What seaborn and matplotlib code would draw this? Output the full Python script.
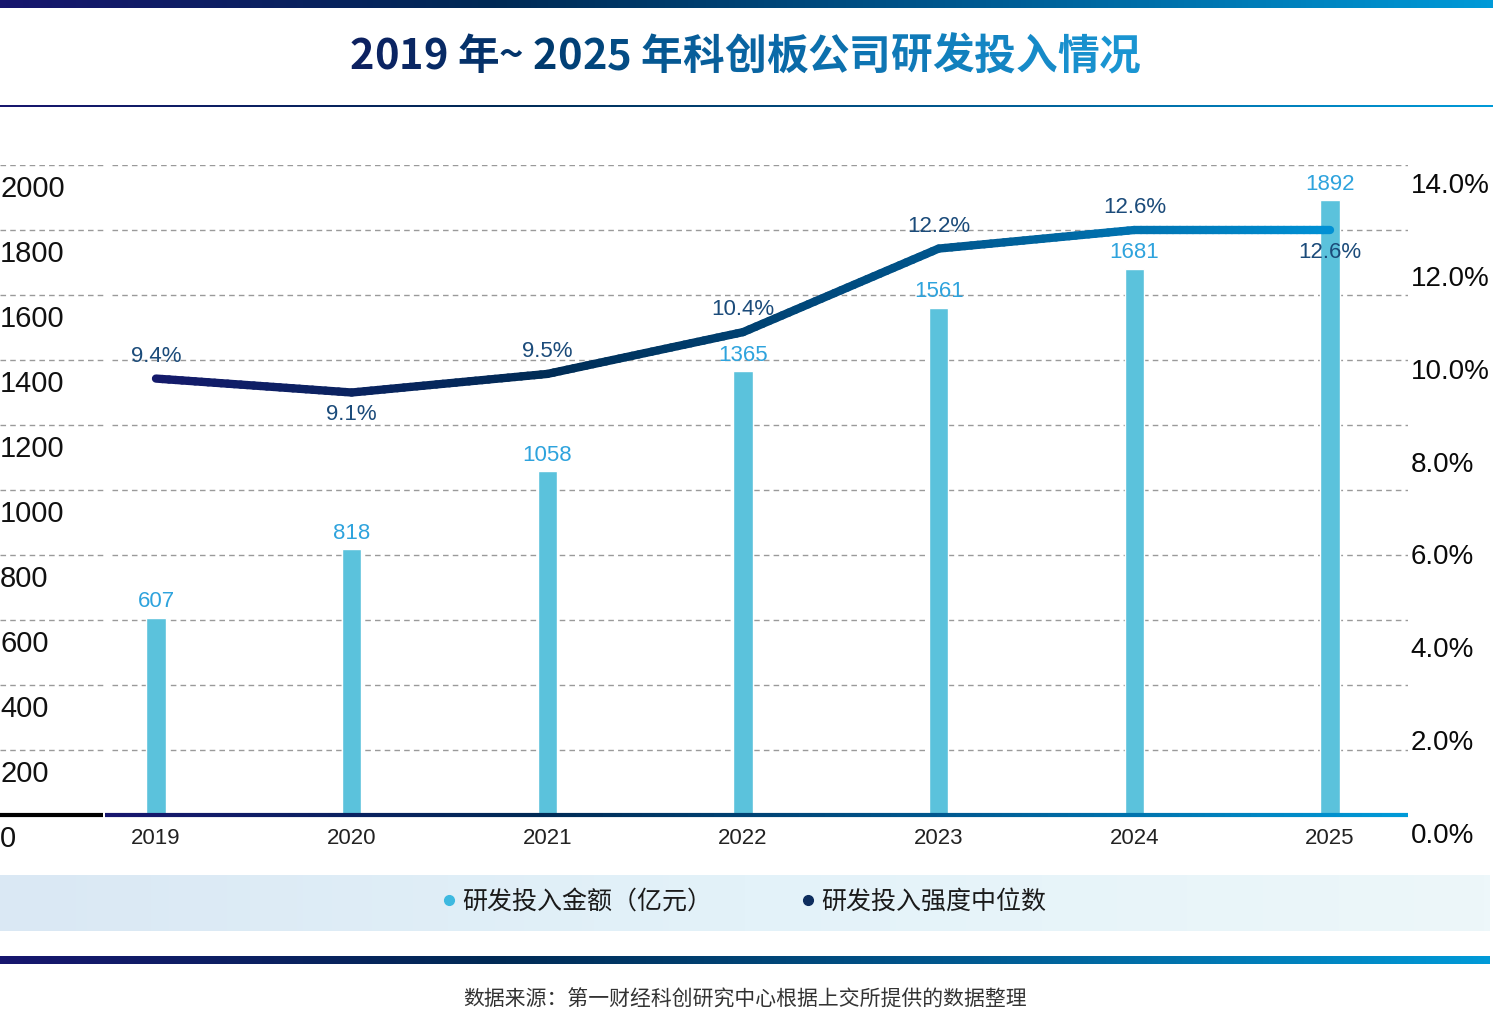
import numpy as np
import pandas as pd
import seaborn as sns
import matplotlib.pyplot as plt
from matplotlib.collections import LineCollection
from matplotlib.colors import LinearSegmentedColormap
from matplotlib.lines import Line2D
from matplotlib.transforms import ScaledTranslation

# data
years = ['2019', '2020', '2021', '2022', '2023', '2024', '2025']
rd_amount = [607, 818, 1058, 1365, 1561, 1681, 1892]          # 亿元
rd_intensity = [9.4, 9.1, 9.5, 10.4, 12.2, 12.6, 12.6]        # %
pct_label_above = [True, False, True, True, True, True, False]
left_ticks = [0, 200, 400, 600, 800, 1000, 1200, 1400, 1600, 1800, 2000]
right_ticks = [0, 2, 4, 6, 8, 10, 12, 14]

title = '2019 年~ 2025 年科创板公司研发投入情况'
legend_names = ['研发投入金额（亿元）', '研发投入强度中位数']
source = '数据来源：第一财经科创研究中心根据上交所提供的数据整理'

sns.set_theme(style='white')
plt.rcParams['font.family'] = ['Liberation Sans', 'Noto Sans CJK SC', 'DejaVu Sans']

W, H = 1493, 1018
BAR = '#5bc2dc'
brand = LinearSegmentedColormap.from_list('brand', ['#17166e', '#002a55', '#005c94', '#009ad8'])
title_cmap = LinearSegmentedColormap.from_list('tt', ['#0d2160', '#003a6e', '#0a6aa8', '#1a95d2'])
line_cmap = LinearSegmentedColormap.from_list('ln', ['#141a6b', '#002c55', '#00558c', '#0090d4'])

fig = plt.figure(figsize=(W / 100, H / 100), dpi=100)


def px_axes(x0, y0, x1, y1):
    # pixel box (top-left origin) -> figure axes
    return fig.add_axes([x0 / W, 1 - y1 / H, (x1 - x0) / W, (y1 - y0) / H])


def gradient_strip(x0, y0, x1, y1, cmap):
    a = px_axes(x0, y0, x1, y1)
    a.imshow(np.linspace(0, 1, 256)[None, :], aspect='auto', cmap=cmap)
    a.set_axis_off()
    return a


# top bar, title underline, bottom bar
gradient_strip(0, 0, W, 8, brand)
gradient_strip(0, 105, W, 107, brand)
gradient_strip(0, 956, 1490, 964, brand)

# legend band
band = LinearSegmentedColormap.from_list('band', ['#dae8f4', '#e3f2f9', '#edf7fa'])
gradient_strip(0, 875, 1490, 931, band)

# ---- main chart
ax = px_axes(0, 165, 1408, 815)
df = pd.DataFrame({'year': years, 'amount': rd_amount})
sns.barplot(data=df, x='year', y='amount', color=BAR, width=0.1, saturation=1, ax=ax, zorder=3)
ax.set_xlim(-156 / 195.67, (1408 - 156) / 195.67)
ax.set_ylim(0, 2000)
ax.set_xlabel('')
ax.set_ylabel('')
for s in ax.spines.values():
    s.set_visible(False)

# dashed grid with small gap near the left labels
ytr = ax.get_yaxis_transform()
for v in left_ticks[1:]:
    ax.plot([0, 103 / 1408], [v, v], transform=ytr, color='#9a9a9a', lw=1, ls=(0, (4, 3)), zorder=1)
    ax.plot([112 / 1408, 1], [v, v], transform=ytr, color='#9a9a9a', lw=1, ls=(0, (4, 3)), zorder=1)

# baseline
ax.plot([0, 103 / 1408], [0, 0], transform=ytr, color='black', lw=3, zorder=4, clip_on=False,
        solid_capstyle='butt')
bx = np.linspace(105 / 1408, 1, 200)
bseg = [[(bx[i], 0), (bx[i + 1], 0)] for i in range(len(bx) - 1)]
ax.add_collection(LineCollection(bseg, colors=brand(np.linspace(0, 1, len(bseg))), lw=3,
                                 transform=ytr, zorder=4, clip_on=False))

ax.set_yticks(left_ticks)
ax.set_yticklabels([str(v) for v in left_ticks])
ax.tick_params(axis='y', length=0, pad=0, labelsize=21, labelcolor='#111111')
off_l = ScaledTranslation(0, -21 / 100, fig.dpi_scale_trans)
for lab in ax.get_yticklabels():
    lab.set_horizontalalignment('left')
    lab.set_transform(lab.get_transform() + off_l)
ax.tick_params(axis='x', length=0, pad=9, labelsize=16, labelcolor='#222222')

for i, v in enumerate(rd_amount):
    ax.annotate(str(v), (i, v), xytext=(0, 4), textcoords='offset points', ha='center',
                va='bottom', fontsize=16, color='#2ea3dd', zorder=6, annotation_clip=False)

# ---- right axis: intensity line
ax2 = ax.twinx()
ax2.set_ylim(0, 14)
for s in ax2.spines.values():
    s.set_visible(False)
ax2.grid(False)
ax2.set_yticks(right_ticks)
ax2.set_yticklabels([f'{v:.1f}%' for v in right_ticks])
ax2.tick_params(axis='y', length=0, pad=2, labelsize=20, labelcolor='#0a0a0a')
off_r = ScaledTranslation(0, -18 / 100, fig.dpi_scale_trans)
for lab in ax2.get_yticklabels():
    lab.set_transform(lab.get_transform() + off_r)

xs = np.arange(len(years))
segs, cols = [], []
n_sub = 30
for i in range(len(xs) - 1):
    for k in range(n_sub):
        t0, t1 = k / n_sub, (k + 1) / n_sub
        p0 = (xs[i] + t0, rd_intensity[i] + t0 * (rd_intensity[i + 1] - rd_intensity[i]))
        p1 = (xs[i] + t1, rd_intensity[i] + t1 * (rd_intensity[i + 1] - rd_intensity[i]))
        segs.append([p0, p1])
        cols.append(line_cmap((i + (t0 + t1) / 2) / (len(xs) - 1)))
ax2.add_collection(LineCollection(segs, colors=cols, lw=6, capstyle='round', joinstyle='round',
                                  zorder=5))

for i, v in enumerate(rd_intensity):
    dy = 16 if pct_label_above[i] else -16
    ax2.annotate(f'{v}%', (i, v), xytext=(0, dy), textcoords='offset points', ha='center',
                 va='center', fontsize=16, color='#1b4b7a', zorder=6, annotation_clip=False)

# ---- title with colour gradient, char by char
tfont = dict(fontsize=30, fontweight='bold', family=['Noto Sans CJK SC'])
renderer = fig.canvas.get_renderer()


def text_w(s):
    t = fig.text(0, 0, s, **tfont)
    w = t.get_window_extent(renderer).width
    t.remove()
    return w


total = text_w(title)
x0 = 745 - total / 2
ref = text_w('x')
for i, ch in enumerate(title):
    xi = x0 + (text_w(title[:i] + 'x') - ref if i else 0)
    fig.text(xi / W, 1 - 57 / H, ch, ha='left', va='center',
             color=title_cmap(i / (len(title) - 1)), **tfont)

# ---- legend
handles = [Line2D([], [], ls='', marker='o', markersize=7, color='#3db9e0'),
           Line2D([], [], ls='', marker='o', markersize=7, color='#0d2d5e')]
fig.legend(handles, legend_names, loc='center', bbox_to_anchor=(745 / W, 1 - 902 / H), ncol=2,
           frameon=False, handlelength=0.4, handletextpad=0.35, columnspacing=3.6,
           prop={'family': ['Noto Sans CJK SC'], 'size': 18}, labelcolor='#1a1a1a')

# ---- source
fig.text(745 / W, 1 - 1000 / H, source, ha='center', va='center', fontsize=15,
         color='#333333', family=['Noto Sans CJK SC'])

fig.savefig('out.png', dpi=100)
